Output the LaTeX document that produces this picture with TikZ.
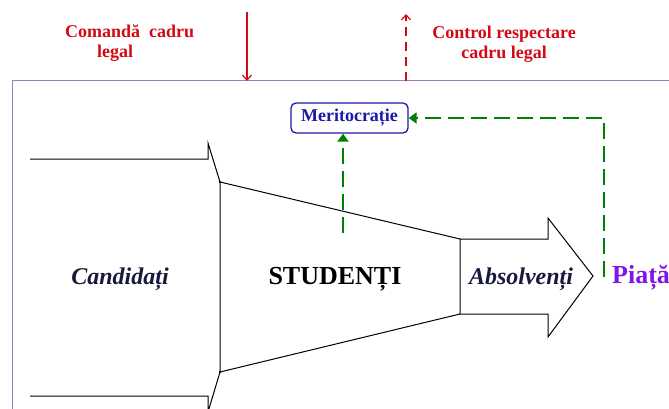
\documentclass[tikz,border=0pt]{standalone}
\usepackage{fontspec}
\setmainfont{Liberation Serif}
\usetikzlibrary{arrows.meta}

\definecolor{legalred}{RGB}{210,10,20}
\definecolor{meritgreen}{RGB}{0,128,0}
\definecolor{meritblue}{RGB}{25,25,170}
\definecolor{flownavy}{RGB}{25,25,60}
\definecolor{marketpurple}{RGB}{130,20,230}
\definecolor{framegray}{RGB}{150,130,180}

\begin{document}
\begin{tikzpicture}[x=1pt,y=-1pt,
  legallabel/.style={text=legalred,inner sep=0pt,font=\bfseries\fontsize{18}{20}\selectfont},
  flowlabel/.style={text=flownavy,inner sep=0pt,anchor=base,font=\bfseries\itshape\fontsize{24}{26}\selectfont},
  funnel/.style={draw=black,line width=1pt},
  legalarrow/.style={draw=legalred,line width=1.2pt,-{Straight Barb[length=5pt,width=9pt]}},
  meritarrow/.style={draw=meritgreen,line width=2pt,dash pattern=on 16pt off 7pt,-{Triangle[length=8pt,width=11pt]}}]
\useasboundingbox (0,0) rectangle (669,409);
\clip (0,0) rectangle (669,409);

% frame of the university
\draw[framegray,line width=1pt] (12,81) rectangle (700,440);

% legal framework, above the frame
\node[legallabel,align=left,anchor=north west] (command) at (65,25) {Comandă\ \ cadru\\\hspace*{32pt}legal};
\node[legallabel,align=center,anchor=north] (control) at (504,26) {Control respectare\\cadru legal};
\coordinate (commandtop) at (247,12);
\coordinate (commandin) at (247,81);
\coordinate (controlout) at (406,81);
\coordinate (controltop) at (406,14);
\draw[legalarrow] (commandtop) -- (commandin);
\draw[legalarrow,dash pattern=on 9pt off 6pt] (controlout) -- (controltop);

% candidates, students, graduates
\draw[funnel] (30,159) -- (208,159) -- (208,143) -- (220,182);
\draw[funnel] (30,396) -- (208,396) -- (208,412) -- (220,372);
\draw[funnel] (220,182) -- (460,239) -- (460,314) -- (220,372) -- cycle;
\draw[funnel] (460,239) -- (548,239) -- (548,218) -- (593,276) -- (548,337) -- (548,314) -- (460,314);
\fill (220,182) circle (1.3pt);
\fill (220,372) circle (1.3pt);

\node[flowlabel] (cand) at (120,284) {Candidați};
\node[inner sep=0pt,anchor=base,font=\bfseries\fontsize{26}{28}\selectfont] (stud) at (335,284) {STUDENȚI};
\node[flowlabel] (absolv) at (521,284) {Absolvenți};
\node[text=marketpurple,inner sep=0pt,anchor=base west,font=\bfseries\fontsize{26}{28}\selectfont] (piata) at (612,283) {Piață};

% merit
\node[draw=meritblue,text=meritblue,line width=1.3pt,rounded corners=5pt,inner sep=0pt,
  minimum width=117pt,minimum height=30pt,font=\bfseries\fontsize{18}{20}\selectfont] (merit) at (349.5,118) {Meritocrație};
\coordinate (studtop) at (343,233);
\draw[meritarrow] (studtop) -- (studtop |- merit.south);
\draw[meritarrow] ([xshift=-8pt]piata.west) |- (merit.east);
\end{tikzpicture}
\end{document}
